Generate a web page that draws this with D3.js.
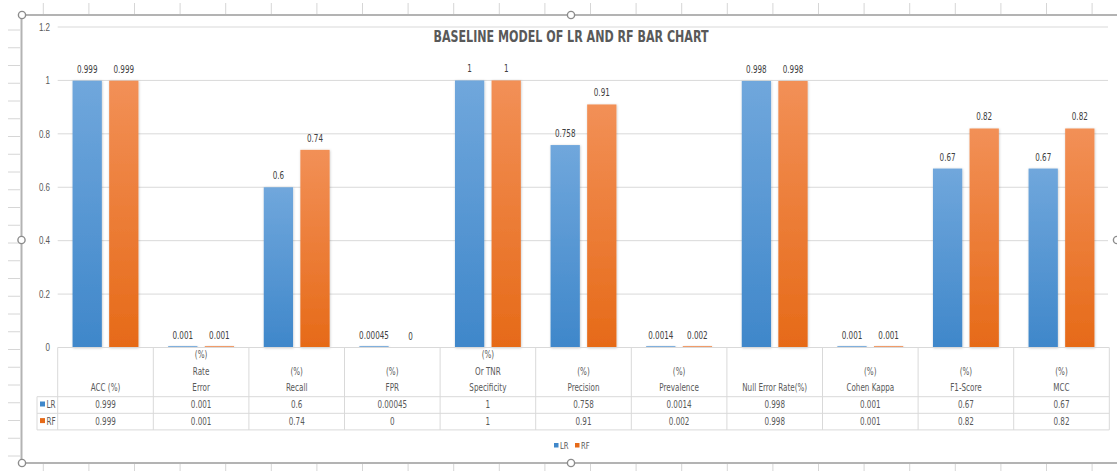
<!DOCTYPE html>
<html>
<head>
<meta charset="utf-8">
<script src="https://cdn.jsdelivr.net/npm/d3@7"></script>
<style>
  html, body { margin: 0; padding: 0; background: #fff; }
  svg { display: block; font-family: "Liberation Sans Narrow", "Arial Narrow", "DejaVu Sans Condensed", sans-serif; }
</style>
</head>
<body>
<svg id="chart" width="1117" height="471"></svg>
<script>
// ---- data
var categories = ["ACC", "Error Rate", "Recall", "FPR", "Specificity", "Precision",
                  "Prevalence", "Null Error Rate", "Cohen Kappa", "F1-Score", "MCC"];
var headerLines = [
  ["ACC (%)"],
  ["(%)", "Rate", "Error"],
  ["(%)", "Recall"],
  ["(%)", "FPR"],
  ["(%)", "Or TNR", "Specificity"],
  ["(%)", "Precision"],
  ["(%)", "Prevalence"],
  ["Null Error Rate(%)"],
  ["(%)", "Cohen Kappa"],
  ["(%)", "F1-Score"],
  ["(%)", "MCC"]
];
var seriesNames = ["LR", "RF"];
var lrValues = [0.999, 0.001, 0.6, 0.00045, 1, 0.758, 0.0014, 0.998, 0.001, 0.67, 0.67];
var rfValues = [0.999, 0.001, 0.74, 0, 1, 0.91, 0.002, 0.998, 0.001, 0.82, 0.82];
var yTicks = [0, 0.2, 0.4, 0.6, 0.8, 1, 1.2];
var title = "BASELINE MODEL OF LR AND RF BAR CHART";

// ---- layout
var W = 1117, H = 471,
    plotLeft = 57.7, plotRight = 1109.3,
    plotTop = 27, plotBottom = 347.5,
    rowH = [49.2, 16.6, 16.6],   // header, LR, RF rows of the data table
    keyLeft = 37,
    squeeze = 0.8,               // the reference text is a narrow face
    textCol = "#595959";

var colors = {
  LR: { top: "#70a7dc", bottom: "#3f87ca" },
  RF: { top: "#f29057", bottom: "#e66a18" }
};

var svg = d3.select("#chart");
var defs = svg.append("defs");

seriesNames.forEach(function (s) {
  var g = defs.append("linearGradient").attr("id", "grad-" + s)
      .attr("x1", 0).attr("y1", 0).attr("x2", 0).attr("y2", 1);
  g.append("stop").attr("offset", "0%").attr("stop-color", colors[s].top);
  g.append("stop").attr("offset", "100%").attr("stop-color", colors[s].bottom);
});
var f = defs.append("filter").attr("id", "shadow")
    .attr("x", "-20%").attr("y", "-20%").attr("width", "140%").attr("height", "140%");
f.append("feDropShadow").attr("dx", 0.5).attr("dy", 0.5).attr("stdDeviation", 0.8)
    .attr("flood-color", "#000").attr("flood-opacity", 0.22);

//--------------------- spreadsheet background (grid ticks around the chart)
var bg = svg.append("g").attr("stroke", "#d6d6d6").attr("stroke-width", 1);
for (var k = 0; k < 24; k++) {
  var gx = 43.3 + k * 45.6;
  bg.append("line").attr("x1", gx).attr("x2", gx).attr("y1", 3).attr("y2", 14);
  bg.append("line").attr("x1", gx).attr("x2", gx).attr("y1", 464).attr("y2", 471);
}
for (var j = 0; j < 25; j++) {
  var gy = 30 + j * 17.75;
  bg.append("line").attr("x1", 8).attr("x2", 20).attr("y1", gy).attr("y2", gy);
}

//--------------------- chart frame
svg.append("rect").attr("x", 21.5).attr("y", 15).attr("width", W + 10).attr("height", 448)
   .attr("fill", "#fff").attr("stroke", "#b3b3b3").attr("stroke-width", 2);

// ---- scales
var x = d3.scaleBand().domain(categories).range([plotLeft, plotRight]).padding(0);
var xs = d3.scaleBand().domain(seriesNames).range([0, x.bandwidth()])
    .paddingInner(0.2).paddingOuter(0.406);
var y = d3.scaleLinear().domain([0, 1.2]).range([plotBottom, plotTop]);

// gridlines
svg.append("g").selectAll("line").data(yTicks.filter(function (t) { return t > 0; }))
  .join("line")
  .attr("x1", plotLeft).attr("x2", 1108)
  .attr("y1", function (d) { return y(d); }).attr("y2", function (d) { return y(d); })
  .attr("stroke", "#d9d9d9").attr("stroke-width", 1);

// y axis labels
var yAxis = d3.axisLeft(y).tickValues(yTicks).tickSize(0).tickPadding(0)
    .tickFormat(function (d) { return String(+d.toFixed(1)); });
var yg = svg.append("g").attr("transform", "translate(50,0)").call(yAxis);
yg.select(".domain").remove();
yg.selectAll("text").attr("class", "sq").attr("fill", textCol).style("font-size", "10px")
  .style("font-family", "inherit");

// title
svg.append("text").attr("x", 571).attr("y", 41.5).attr("text-anchor", "middle")
   .attr("fill", textCol).style("font-size", "16.5px").style("font-weight", "bold")
   .attr("textLength", 275).attr("lengthAdjust", "spacingAndGlyphs")
   .text(title);

// ---- bars
var rows = categories.map(function (c, i) {
  return { cat: c, values: [{ s: "LR", v: lrValues[i] }, { s: "RF", v: rfValues[i] }] };
});

var groups = svg.append("g").selectAll("g").data(rows).join("g")
  .attr("transform", function (d) { return "translate(" + x(d.cat) + ",0)"; });

groups.selectAll("rect").data(function (d) { return d.values; }).join("rect")
  .attr("x", function (d) { return xs(d.s); })
  .attr("width", xs.bandwidth())
  .attr("y", function (d) {
    var h = plotBottom - y(d.v);
    return d.v > 0 ? plotBottom - Math.max(h, 1.3) : plotBottom;
  })
  .attr("height", function (d) {
    var h = plotBottom - y(d.v);
    return d.v > 0 ? Math.max(h, 1.3) : 0;
  })
  .attr("fill", function (d) { return "url(#grad-" + d.s + ")"; })
  .attr("filter", "url(#shadow)");

groups.selectAll("text").data(function (d) { return d.values; }).join("text")
  .attr("class", "sq")
  .attr("x", function (d) { return xs(d.s) + xs.bandwidth() / 2; })
  .attr("y", function (d) { return y(d.v) - 8; })
  .attr("text-anchor", "middle").attr("fill", "#404040").style("font-size", "10px")
  .text(function (d) { return String(d.v); });

// ---- data table
var tb = svg.append("g");
var lineCol = "#d9d9d9";
var rowY = [plotBottom, plotBottom + rowH[0], plotBottom + rowH[0] + rowH[1],
            plotBottom + rowH[0] + rowH[1] + rowH[2]];

tb.append("line").attr("x1", plotLeft).attr("x2", plotRight)
  .attr("y1", rowY[0]).attr("y2", rowY[0]).attr("stroke", lineCol);
[1, 2, 3].forEach(function (r) {
  tb.append("line").attr("x1", keyLeft).attr("x2", plotRight)
    .attr("y1", rowY[r]).attr("y2", rowY[r]).attr("stroke", lineCol);
});
tb.append("line").attr("x1", keyLeft).attr("x2", keyLeft)
  .attr("y1", rowY[1]).attr("y2", rowY[3]).attr("stroke", lineCol);
categories.concat([null]).forEach(function (c) {
  var cx = c === null ? plotRight : x(c);
  tb.append("line").attr("x1", cx).attr("x2", cx)
    .attr("y1", rowY[0]).attr("y2", rowY[3]).attr("stroke", lineCol);
});

// header cells (bottom aligned)
var lineGap = 16.5, headBase = rowY[1] - 5.7;
categories.forEach(function (c, i) {
  var lines = headerLines[i], n = lines.length;
  lines.forEach(function (t, li) {
    tb.append("text").attr("class", "sq").attr("x", x(c) + x.bandwidth() / 2)
      .attr("y", headBase - (n - 1 - li) * lineGap)
      .attr("text-anchor", "middle").attr("fill", textCol).style("font-size", "10px")
      .text(t);
  });
});

// value rows
[lrValues, rfValues].forEach(function (vals, r) {
  var base = rowY[r + 1] + 11.6;
  categories.forEach(function (c, i) {
    tb.append("text").attr("class", "sq").attr("x", x(c) + x.bandwidth() / 2).attr("y", base)
      .attr("text-anchor", "middle").attr("fill", textCol).style("font-size", "10px")
      .text(String(vals[i]));
  });
  var s = seriesNames[r];
  tb.append("rect").attr("x", 40).attr("y", base - 6.8).attr("width", 5).attr("height", 5)
    .attr("fill", colors[s].bottom);
  tb.append("text").attr("class", "sq").attr("x", 46.5).attr("y", base).attr("fill", textCol)
    .style("font-size", "10px").text(s);
});

// ---- legend
var legend = svg.append("g").attr("transform", "translate(554,0)");
seriesNames.forEach(function (s, i) {
  var lx = i * 21;
  legend.append("rect").attr("x", lx).attr("y", 443).attr("width", 4.5).attr("height", 4.5)
    .attr("fill", colors[s].bottom);
  legend.append("text").attr("class", "sq").attr("x", lx + 6).attr("y", 449).attr("fill", textCol)
    .style("font-size", "9.5px").text(s);
});

// narrow all small texts to match the condensed face of the reference
svg.selectAll("text.sq").each(function () {
  var len = this.getComputedTextLength();
  d3.select(this).attr("textLength", len * squeeze).attr("lengthAdjust", "spacingAndGlyphs");
});

//--------------------- selection handles
var handles = [[22, 15], [571, 15], [22, 463], [571, 463], [21.5, 240], [1117, 240]];
svg.append("g").selectAll("circle").data(handles).join("circle")
  .attr("cx", function (d) { return d[0]; }).attr("cy", function (d) { return d[1]; })
  .attr("r", 3.6).attr("fill", "#fff").attr("stroke", "#8c8c8c").attr("stroke-width", 1.4);
</script>
</body>
</html>
